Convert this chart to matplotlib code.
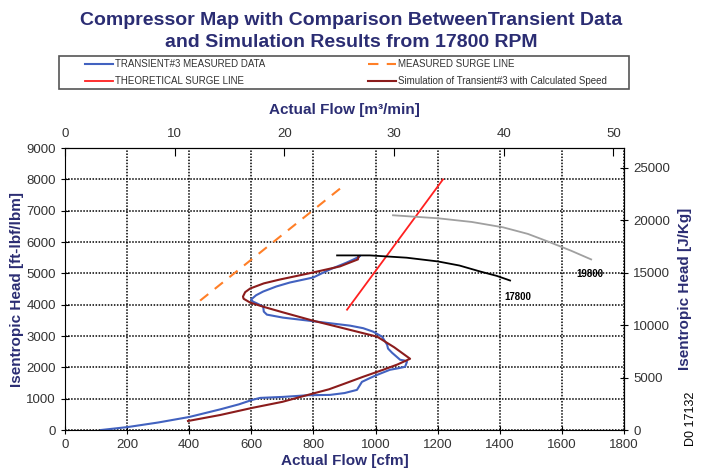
import numpy as np
import matplotlib.pyplot as plt
from matplotlib.patches import Rectangle

plt.rcParams['font.family'] = ['Liberation Sans', 'DejaVu Sans']

# transient #3 measured data (cfm, ft-lbf/lbm)
meas_flow = [116, 203, 300, 400, 500, 560, 602, 628, 702, 782, 853, 900, 940, 956, 980, 1005,
             1046, 1075, 1095, 1101, 1092, 1079, 1053, 1040, 1037, 1021, 992, 960, 918, 860,
             811, 702, 650, 640, 638, 620, 605, 599, 615, 638, 680, 724, 799, 853, 908, 943,
             950, 940]
meas_head = [0, 96, 240, 416, 660, 820, 960, 1025, 1057, 1110, 1121, 1180, 1281, 1537, 1650,
             1761, 1922, 1975, 2018, 2178, 2220, 2242, 2466, 2600, 2723, 2979, 3139, 3250,
             3331, 3400, 3459, 3587, 3683, 3780, 3940, 4030, 4100, 4164, 4300, 4420, 4580,
             4708, 4868, 5125, 5349, 5509, 5560, 5480]

# simulation of transient #3 with calculated speed
sim_flow = [396, 500, 602, 700, 782, 850, 900, 960, 1024, 1070, 1111, 1060, 1005, 900, 798,
            700, 640, 596, 575, 573, 580, 596, 640, 692, 799, 885, 943, 945]
sim_head = [288, 480, 705, 900, 1121, 1300, 1480, 1700, 1922, 2090, 2274, 2640, 2979, 3240,
            3491, 3760, 3930, 4068, 4190, 4260, 4400, 4516, 4680, 4804, 5029, 5221, 5445, 5541]

# surge lines
msurge_flow = [435, 900]
msurge_head = [4130, 7820]
tsurge_flow = [908, 1217]
tsurge_head = [3840, 8000]

# speed lines
rpm17800_flow = [876, 982, 1100, 1201, 1270, 1336, 1390, 1433]
rpm17800_head = [5573, 5573, 5500, 5380, 5250, 5061, 4920, 4772]
rpm19800_flow = [1056, 1201, 1310, 1410, 1490, 1562, 1630, 1694]
rpm19800_head = [6854, 6758, 6640, 6470, 6260, 5990, 5720, 5445]

CFM_PER_M3MIN = 35.3147
JKG_PER_FTLBF = 2.98907
navy = '#2b2d73'

fig = plt.figure(figsize=(7.02, 4.76), dpi=100)
ax = fig.add_axes([0.0926, 0.0966, 0.7964, 0.5924])

l1, = ax.plot(meas_flow, meas_head, color='#4262c0', lw=1.5, label='TRANSIENT#3 MEASURED DATA')
l4, = ax.plot(sim_flow, sim_head, color='#8b1c1c', lw=1.5,
              label='Simulation of Transient#3 with Calculated Speed')
l2, = ax.plot(msurge_flow, msurge_head, color='#ff7f27', lw=1.5, dashes=(5, 4),
              label='MEASURED SURGE LINE')
l3, = ax.plot(tsurge_flow, tsurge_head, color='#ff2020', lw=1.3, label='THEORETICAL SURGE LINE')
ax.plot(rpm17800_flow, rpm17800_head, color='black', lw=1.3)
ax.plot(rpm19800_flow, rpm19800_head, color='#a0a0a0', lw=1.3)
ax.text(1458, 4260, '17800', fontsize=7, fontweight='bold', ha='center', va='center')
ax.text(1690, 4965, '19800', fontsize=7, fontweight='bold', ha='center', va='center')

ax.set_xlim(0, 1800)
ax.set_ylim(0, 9000)
ax.set_xticks(np.arange(0, 1801, 200))
ax.set_yticks(np.arange(0, 9001, 1000))
ax.grid(True, color='black', ls=(0, (1, 1)), lw=1.1)
ax.tick_params(direction='inout', length=6, labelsize=9.5, labelcolor='#333333')
for s in ax.spines.values():
    s.set_color('black')
ax.set_xlabel('Actual Flow [cfm]', fontsize=11, fontweight='bold', color=navy, labelpad=2)
ax.set_ylabel('Isentropic Head [ft-lbf/lbm]', fontsize=11, fontweight='bold', color=navy,
              labelpad=2)

top = ax.secondary_xaxis('top', functions=(lambda x: x / CFM_PER_M3MIN,
                                           lambda x: x * CFM_PER_M3MIN))
top.set_xticks(np.arange(0, 51, 10))
top.tick_params(direction='in', length=6, labelsize=9.5, labelcolor='#333333', pad=6)
top.set_xlabel('Actual Flow [m³/min]', fontsize=11, fontweight='bold', color=navy,
               labelpad=10)

right = ax.secondary_yaxis('right', functions=(lambda y: y * JKG_PER_FTLBF,
                                               lambda y: y / JKG_PER_FTLBF))
right.set_yticks(np.arange(0, 25001, 5000))
right.tick_params(direction='inout', length=6, labelsize=9.5, labelcolor='#333333')
right.set_ylabel('Isentropic Head [J/Kg]', fontsize=11, fontweight='bold', color=navy,
                 labelpad=6)

fig.text(0.5, 0.934, 'Compressor Map with Comparison BetweenTransient Data\n'
         'and Simulation Results from 17800 RPM', ha='center', va='center',
         fontsize=14, fontweight='bold', color=navy, linespacing=1.35)

# legend box drawn separately, entries spread inside it
fig.add_artist(Rectangle((0.084, 0.813), 0.812, 0.069, transform=fig.transFigure,
                         fill=False, edgecolor='#555555', lw=1.2))
leg = fig.legend(handles=[l1, l3, l2, l4], loc='center', ncol=2, mode='expand',
                 bbox_to_anchor=(0.121, 0.847, 0.744, 0.0), fontsize=7,
                 frameon=False, handlelength=2.9, handletextpad=0.2, borderpad=0,
                 borderaxespad=0, labelcolor='#333333', columnspacing=1, labelspacing=0.75)

fig.text(0.985, 0.12, 'D0 17132', rotation=90, fontsize=9, ha='center', va='center')

fig.savefig('out.png', dpi=100)
